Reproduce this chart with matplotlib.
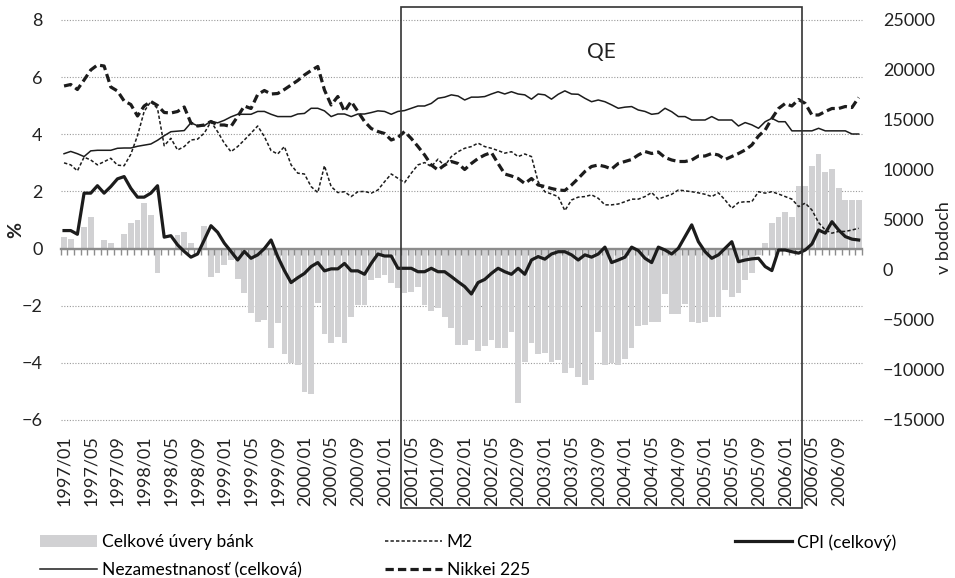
import numpy as np
import matplotlib
matplotlib.use("Agg")
import matplotlib.pyplot as plt
from matplotlib.patches import Rectangle
from matplotlib.transforms import blended_transform_factory

plt.rcParams['font.family'] = ['Lato', 'DejaVu Sans']

# months 1997/01 .. 2006/12
months = [f"{y}/{m:02d}" for y in range(1997, 2007) for m in range(1, 13)]

# Celkove uvery bank (%, left axis)
loans = [0.4, 0.33, -0.05, 0.77, 1.1, -0.05, 0.3, 0.19, -0.05, 0.5,
         0.89, 1.0, 1.59, 1.18, -0.86, -0.05, -0.05, 0.48, 0.59, 0.19,
         -0.05, 0.79, -0.98, -0.86, -0.57, -0.4, -1.08, -1.57, -2.27, -2.56,
         -2.5, -3.49, -2.62, -3.69, -4.02, -4.07, -5.01, -5.09, -1.91, -2.99,
         -3.29, -3.08, -3.29, -2.38, -1.97, -1.97, -1.1, -1.04, -0.92, -1.19,
         -1.39, -1.57, -1.51, -1.33, -1.97, -2.17, -2.09, -2.38, -2.79, -3.37,
         -3.37, -3.2, -3.57, -3.41, -3.2, -3.49, -3.49, -2.91, -5.39, -3.96,
         -3.31, -3.69, -3.64, -3.96, -3.9, -4.37, -4.19, -4.48, -4.77, -4.6,
         -2.91, -4.07, -4.02, -4.07, -3.88, -3.49, -2.71, -2.67, -2.56, -2.56,
         -1.59, -2.29, -2.29, -1.94, -2.56, -2.59, -2.56, -2.38, -2.38, -1.45,
         -1.68, -1.57, -1.1, -0.87, -0.22, 0.19, 0.91, 1.12, 1.29, 1.12,
         2.19, 2.19, 2.9, 3.3, 2.69, 2.78, 2.11, 1.7, 1.7, 1.7]

# M2 (%, left axis)
m2 = [3.0, 2.93, 2.72, 3.2, 3.1, 2.93, 3.04, 3.16, 2.92, 2.9,
      3.3, 3.95, 4.8, 5.15, 4.9, 3.6, 3.86, 3.45, 3.57, 3.8,
      3.83, 4.04, 4.44, 4.09, 3.69, 3.39, 3.57, 3.8, 4.04, 4.29,
      3.92, 3.43, 3.31, 3.57, 2.93, 2.64, 2.61, 2.17, 1.96, 2.9,
      2.17, 1.96, 1.99, 1.82, 1.99, 2.0, 1.94, 2.05, 2.34, 2.61,
      2.46, 2.31, 2.64, 2.93, 3.01, 2.87, 3.13, 2.89, 3.22, 3.39,
      3.51, 3.57, 3.69, 3.57, 3.51, 3.43, 3.34, 3.39, 3.22, 3.31,
      3.22, 2.34, 1.99, 1.91, 1.82, 1.33, 1.7, 1.8, 1.82, 1.88,
      1.76, 1.53, 1.53, 1.56, 1.64, 1.73, 1.73, 1.82, 1.96, 1.73,
      1.82, 1.9, 2.05, 2.02, 1.99, 1.95, 1.9, 1.82, 1.95, 1.7,
      1.41, 1.61, 1.64, 1.64, 1.99, 1.94, 1.99, 1.91, 1.82, 1.73,
      1.47, 1.59, 1.35, 0.91, 0.65, 0.54, 0.6, 0.6, 0.65, 0.71]

# CPI (celkovy) (%, left axis)
cpi = [0.63, 0.63, 0.5, 1.94, 1.94, 2.2, 1.94, 2.17, 2.44, 2.52,
       2.11, 1.8, 1.8, 1.94, 2.2, 0.4, 0.45, 0.13, -0.1, -0.3,
       -0.19, 0.3, 0.8, 0.57, 0.19, -0.1, -0.4, -0.1, -0.34, -0.22,
       0.0, 0.3, -0.28, -0.77, -1.19, -1.02, -0.87, -0.63, -0.49, -0.78,
       -0.71, -0.71, -0.52, -0.78, -0.78, -0.9, -0.52, -0.19, -0.26, -0.26,
       -0.69, -0.69, -0.69, -0.81, -0.81, -0.69, -0.81, -0.81, -0.98, -1.16,
       -1.33, -1.59, -1.19, -1.08, -0.87, -0.69, -0.81, -0.9, -0.69, -0.9,
       -0.4, -0.28, -0.37, -0.19, -0.11, -0.11, -0.22, -0.4, -0.22, -0.3,
       -0.19, 0.05, -0.49, -0.4, -0.3, 0.05, -0.07, -0.34, -0.49, 0.05,
       -0.05, -0.19, 0.01, 0.42, 0.83, 0.24, -0.11, -0.34, -0.22, 0.01,
       0.24, -0.46, -0.4, -0.36, -0.34, -0.63, -0.77, -0.05, -0.05, -0.11,
       -0.16, -0.05, 0.16, 0.65, 0.54, 0.94, 0.65, 0.42, 0.33, 0.3]

# Nezamestnanost (celkova) (%, left axis)
unemp = [3.32, 3.4, 3.32, 3.22, 3.42, 3.44, 3.44, 3.44, 3.51, 3.52,
         3.52, 3.58, 3.62, 3.66, 3.79, 3.95, 4.09, 4.11, 4.13, 4.4,
         4.3, 4.3, 4.46, 4.4, 4.49, 4.61, 4.7, 4.7, 4.7, 4.8,
         4.8, 4.7, 4.62, 4.62, 4.62, 4.71, 4.73, 4.91, 4.91, 4.82,
         4.62, 4.71, 4.71, 4.62, 4.71, 4.71, 4.76, 4.82, 4.8, 4.7,
         4.8, 4.83, 4.91, 4.99, 4.99, 5.08, 5.26, 5.3, 5.38, 5.34,
         5.2, 5.3, 5.3, 5.32, 5.41, 5.49, 5.41, 5.49, 5.41, 5.38,
         5.23, 5.41, 5.38, 5.23, 5.4, 5.52, 5.41, 5.4, 5.26, 5.14,
         5.2, 5.14, 5.03, 4.91, 4.95, 4.97, 4.85, 4.8, 4.7, 4.73,
         4.91, 4.79, 4.62, 4.62, 4.5, 4.5, 4.5, 4.62, 4.5, 4.5,
         4.5, 4.29, 4.41, 4.33, 4.21, 4.44, 4.56, 4.44, 4.44, 4.12,
         4.12, 4.12, 4.12, 4.21, 4.12, 4.12, 4.12, 4.12, 4.01, 4.01]

# Nikkei 225 (body, right axis)
nikkei = [18400, 18550, 18050, 19000, 20000, 20500, 20400, 18300, 17900, 16900,
          16550, 15400, 16400, 16850, 16450, 15750, 15700, 15850, 16300, 14700,
          14400, 14500, 14850, 14500, 14500, 14350, 15350, 16400, 16150, 17550,
          17950, 17600, 17650, 18050, 18500, 18950, 19500, 19950, 20350, 18000,
          16500, 17350, 15850, 16850, 15850, 14850, 14150, 13850, 13650, 13000,
          13250, 13850, 13150, 12350, 11500, 10500, 10000, 10500, 10850, 10650,
          10050, 10650, 11150, 11500, 11750, 10650, 9600, 9400, 9150, 8650,
          9150, 8500, 8350, 8150, 8000, 7950, 8500, 9150, 9850, 10350,
          10500, 10350, 10100, 10650, 10850, 11050, 11500, 11850, 11650, 11800,
          11250, 11000, 10850, 10850, 11000, 11400, 11400, 11650, 11500, 11050,
          11350, 11650, 12000, 12500, 13400, 14000, 15150, 16150, 16650, 16400,
          17050, 16650, 15500, 15500, 15850, 16150, 16150, 16350, 16250, 17250]

qe_first, qe_last = '2001/04', '2006/03'

dark = '#1c1c1c'
grey_bar = '#d1d1d3'
grey_axis = '#8c8c8c'

x = np.arange(len(months))

fig = plt.figure(figsize=(9.55, 5.78), dpi=100)
ax = fig.add_axes([60.7 / 955, 1 - 420 / 578, 801.3 / 955, 400 / 578])

bars = ax.bar(x, loans, width=0.86, color=grey_bar, zorder=1)
l_u, = ax.plot(x, unemp, color=dark, lw=1.1, zorder=3)
l_m2, = ax.plot(x, m2, color=dark, lw=1.1, dashes=(2.2, 1.4), zorder=3)
l_cpi, = ax.plot(x, cpi, color=dark, lw=2.3, zorder=4)

ax.set_xlim(-0.5, len(months) - 0.5)
ax.set_ylim(-6, 8)
ax.set_yticks(range(-6, 9, 2))
ax.grid(axis='y', linestyle=(0, (1, 1.5)), color='#9a9a9a', lw=0.8)
for gl in ax.get_ygridlines():
    gl.set_clip_on(False)
ax.yaxis.set_zorder(0.5)
for s in ['left', 'right', 'top']:
    ax.spines[s].set_visible(False)
ax.spines['bottom'].set_position(('data', 0))
ax.spines['bottom'].set_color(grey_axis)
ax.spines['bottom'].set_linewidth(1.7)
ax.set_xticks(np.arange(-0.5, len(months), 1))
ax.tick_params(axis='x', direction='out', length=4, width=1, color=grey_axis,
               labelbottom=False)
ax.tick_params(axis='y', length=0, pad=13, labelsize=13, labelcolor='#222')
ax.set_ylabel('%', fontsize=14, fontweight='bold', color='#222')
ax.yaxis.set_label_coords(-0.046, 0.475)

sec = ax.secondary_xaxis('bottom')
sec.set_xticks(x[::4], months[::4])
sec.tick_params(length=0, pad=11, labelsize=13, labelrotation=90, labelcolor='#222')
sec.spines['bottom'].set_visible(False)

ax2 = ax.twinx()
l_nk, = ax2.plot(x, nikkei, color=dark, lw=2.3, dashes=(2.6, 1.3))
ax2.set_ylim(-15000, 25000)
ax2.set_yticks(range(-15000, 25001, 5000))
for s in ax2.spines.values():
    s.set_visible(False)
ax2.tick_params(axis='y', length=0, pad=15, labelsize=13, labelcolor='#222')
ax2.set_ylabel('v bodoch', fontsize=13, color='#222')
ax2.yaxis.set_label_coords(1.092, 0.455)

# QE box
i0 = months.index(qe_first)
i1 = months.index(qe_last)
tr = blended_transform_factory(ax.transData, ax.transAxes)
fig.add_artist(Rectangle((i0 - 0.5, -0.22), i1 - i0 + 1, 1.2525, transform=tr,
                         fill=False, ec='#333333', lw=1.2, clip_on=False, zorder=5))
ax2.text((i0 + i1) / 2, 0.92, 'QE', transform=tr, ha='center', va='center',
         fontsize=15, color='#222')

kw = dict(loc='upper left', frameon=False, handlelength=3.3, handletextpad=0.25,
          labelspacing=0.7, borderpad=0, borderaxespad=0, fontsize=12.5)
top = 1 - 534 / 578
fig.legend([bars, l_u], ['Celkové úvery bánk', 'Nezamestnanosť (celková)'],
           bbox_to_anchor=(40 / 955, top), **kw)
fig.legend([l_m2, l_nk], ['M2', 'Nikkei 225'],
           bbox_to_anchor=(385 / 955, top), **kw)
fig.legend([l_cpi], ['CPI (celkový)'],
           bbox_to_anchor=(735 / 955, top), **kw)

fig.savefig('out.png', dpi=100, facecolor='white')
